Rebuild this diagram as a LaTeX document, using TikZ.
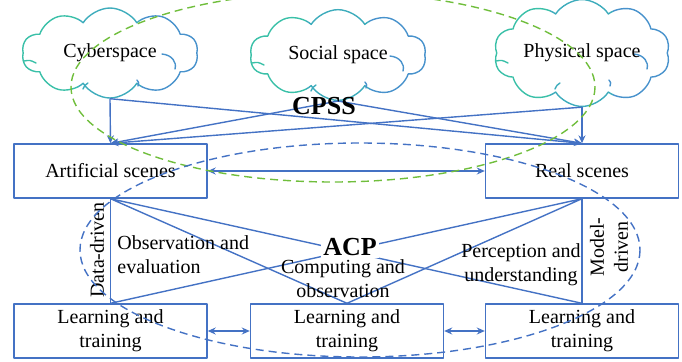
\documentclass[tikz,border=0pt]{standalone}
\usepackage{fontspec}
\setmainfont{Liberation Serif}
\usetikzlibrary{shapes.symbols,arrows.meta}
\definecolor{lineblue}{RGB}{68,114,196}
\definecolor{cpssgreen}{RGB}{112,190,60}
\definecolor{cloudteal}{RGB}{58,192,168}
\definecolor{cloudmid}{RGB}{62,172,188}
\definecolor{cloudblue}{RGB}{72,146,204}
\tikzset{
  spacecloud/.style={cloud,cloud puffs=10,cloud puff arc=115,aspect=2,
    minimum width=88pt,minimum height=45pt,inner sep=0pt,line width=0.7pt},
  wrinkle/.style={line width=0.7pt,line cap=round},
  scenebox/.style={draw=lineblue,line width=0.7pt,minimum width=96.5pt,
    minimum height=27pt,align=center,inner sep=1pt},
  link/.style={draw=lineblue,line width=0.7pt},
  bigtag/.style={font=\fontsize{13}{15}\selectfont\bfseries,inner sep=1pt},
  ring/.style={dashed,dash pattern=on 4pt off 2.5pt,line width=0.7pt}
}
% cloud drawn in three colour bands, with small inner arcs
\newcommand\cloudspace[4]{%
  \foreach \band/\shade in {0/cloudteal,1/cloudmid,2/cloudblue}{%
    \begin{scope}
      \clip ({#2-95+63*\band},0) rectangle ++(63,110);
      \node[spacecloud,draw=\shade] (#1-\band) at (#2,#3) {\phantom{#4}};
    \end{scope}}%
  \draw[wrinkle,cloudblue] ({#2+52},{#3+1}) .. controls ({#2+62},{#3+2}) and ({#2+67},{#3+9}) .. ({#2+65},{#3+16});
  \draw[wrinkle,cloudblue] ({#2+27},{#3+27}) .. controls ({#2+29},{#3+30}) .. ({#2+28},{#3+33});
  \draw[wrinkle,cloudmid] ({#2-22},{#3+30}) .. controls ({#2-25},{#3+32}) .. ({#2-27},{#3+36});
  \draw[wrinkle,cloudteal] ({#2-86},{#3+8}) .. controls ({#2-80},{#3+7}) .. ({#2-74},{#3+10});
  \node[spacecloud] (#1) at (#2,#3) {#4};}
\begin{document}
\begin{tikzpicture}[x=0.5pt,y=-0.5pt,>={Stealth[length=4pt,width=3.5pt]},line join=round,font=\fontsize{10}{12}\selectfont]
  \useasboundingbox (0,0) rectangle (682,361);
  \cloudspace{cyber}{110}{53}{Cyberspace}
  \cloudspace{social}{338}{55}{Social space}
  \cloudspace{physical}{582}{53}{Physical space}
  \node[scenebox] (art) at (110.5,171) {Artificial scenes};
  \node[scenebox] (real) at (582,171) {Real scenes};
  \node[scenebox] (learnL) at (110.5,331) {Learning and\\training};
  \node[scenebox] (learnM) at (347,331) {Learning and\\training};
  \node[scenebox] (learnR) at (582,331) {Learning and\\training};
  % CPSS links
  \foreach \s in {cyber,social,physical}
  \draw[link,->] (\s.south) -- (art.north);
  \foreach \s in {cyber,social,physical}
  \draw[link,->] (\s.south) -- (real.north);
  \draw[link,<->] (art.east) -- (real.west);
  \draw[link,<->] (learnL.east) -- (learnM.west);
  \draw[link,<->] (learnM.east) -- (learnR.west);
  % ACP links
  \draw[link] (art.south) -- (learnL.north) (real.south) -- (learnR.north);
  \draw[link] (art.south) -- (learnM.north) (art.south) -- (learnR.north);
  \draw[link] (real.south) -- (learnM.north) (real.south) -- (learnL.north);
  \node[bigtag] (cpss) at (324,106) {CPSS};
  \node[bigtag,fill=white] (acp) at (350,247) {ACP};
  \node[anchor=west,align=left,inner sep=0pt] (obs) at (117,255) {Observation and\\evaluation};
  \node[align=center,inner sep=0pt] (comp) at (343,279) {Computing and\\observation};
  \node[align=center,inner sep=0pt] (perc) at (521,265) {Perception and\\understanding};
  \node[rotate=90,inner sep=0pt] (data) at (97,250) {Data-driven};
  \node[rotate=90,align=center,inner sep=0pt] (model) at (609,247) {Model-\\driven};
  % dashed rings
  \draw[ring,cpssgreen] (333,87) ellipse [x radius=262,y radius=95];
  \draw[ring,lineblue] (360,250) ellipse [x radius=280,y radius=107];
\end{tikzpicture}
\end{document}
